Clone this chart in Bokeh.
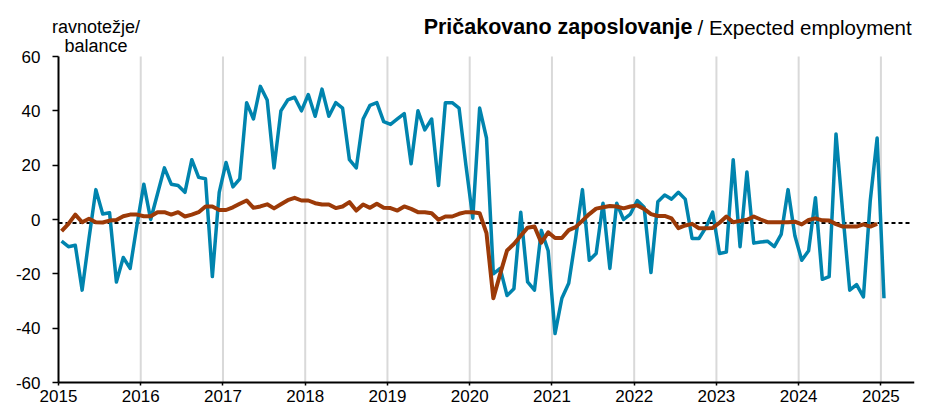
from bokeh.plotting import figure
from bokeh.models import FixedTicker, Label, ColumnDataSource
from bokeh.embed import file_html
from bokeh.resources import INLINE

# ---- data (monthly, Jan 2015 onwards) ----
start_year = 2015
expected_employment = [
    -8, -10, -9.5, -26, -7, 11, 2, 2.5, -23, -14, -18, -2,          # 2015
    13, 0, 9.5, 19, 13, 12.5, 10, 22, 15.5, 15, -21, 10,             # 2016
    21, 12, 15, 43, 37, 49, 44, 19, 40, 44, 45, 40,                  # 2017
    46, 38, 48, 38, 43, 41, 22, 19, 37, 42, 43, 36,                  # 2018
    35, 37, 39, 20.5, 40, 33, 37, 12.5, 43, 43, 41, 20,              # 2019
    0.5, 41, 30, -20, -18, -28, -25.5, 2.7, -23, -26, -4, -11.5,     # 2020
    -42, -29, -23.5, -7, 11, -15, -12.5, 6, -18, 6, 0, 2,            # 2021
    7, 4.5, -19.5, 6.5, 9, 7.5, 10, 7.5, -7, -7, -3, 2.7,            # 2022
    -12.5, -12, 22, -10, 17.5, -8.7, -8.3, -8, -10, -5.5, 11, -6,    # 2023
    -15, -11.5, 8, -22, -21, 31.5, 2, -26, -24, -28.5, 7, 30,        # 2024
    -29,                                                             # 2025
]
trend = [
    -4.3, -1.6, 1.8, -1, 0.3, -1, -1.1, -0.4, -0.2, 1.2, 1.8, 1.8,   # 2015
    1.2, 1.2, 2.7, 2.7, 1.8, 2.7, 1.1, 1.8, 2.7, 4.8, 4.8, 3.5,      # 2016
    3.5, 4.5, 5.8, 7, 4.3, 4.8, 5.6, 4.1, 5.6, 7.1, 8, 7,            # 2017
    7, 6, 5.5, 5.5, 4.2, 4.8, 6.4, 3.3, 5.5, 4.3, 5.8, 4.3,          # 2018
    4.2, 3.3, 4.8, 3.9, 2.7, 2.7, 2.3, -0.1, 1.1, 1.1, 2.1, 2.7,     # 2019
    2.7, 2.3, -5, -29, -20, -11.4, -9, -6, -3, -2.6, -8.5, -4.7,     # 2020
    -6.8, -6.8, -3.9, -2.8, -0.4, 2, 4, 4.5, 5, 4.8, 4.1, 4.8,       # 2021
    5.2, 3.9, 2, 1.3, 1.3, 0.4, -3.2, -2.2, -1.6, -3.2, -3.2, -3.1,  # 2022
    -1.2, 1.1, -1, -0.5, -0.1, 1.1, 0, -1, -1, -1, -1, -0.8,         # 2023
    -1.8, -0.2, 0.4, -0.3, -0.4, -1.7, -2.6, -2.6, -2.6, -1.8, -2.6, -1.6,  # 2024
]
long_term_average = -1.3
year_ticks = [2015, 2016, 2017, 2018, 2019, 2020, 2021, 2022, 2023, 2024, 2025]
year_labels = ["2015", "2016", "2017", "2018", "2019", "2020", "2021", "2022", "2023", "2024", "2025"]
y_ticks = [-60, -40, -20, 0, 20, 40, 60]
y_labels = ["-60", "-40", "-20", "0", "20", "40", "60"]

title_bold = "Pričakovano zaposlovanje"
title_regular = "/ Expected employment"
unit_line1 = "ravnotežje/"
unit_line2 = "balance"

BLUE = "#0084AE"
BROWN = "#9C3A08"
GRID = "#d9d9d9"
FONT = "Liberation Sans"

W, H = 937, 409
Y_MIN, Y_MAX = y_ticks[0], y_ticks[-1]
PX_PER_YEAR = 82.24
PX_PER_UNIT = 2.7167
AXIS_LEFT_PX, AXIS_TOP_PX = 58.0, 56.0


def month_pos(i):
    return start_year + (i + 0.45) / 12.0


# layout helpers (page pixels -> data), used only to place texts / frame
def px_x(px):
    return year_ticks[0] + (px - AXIS_LEFT_PX) / PX_PER_YEAR


def px_y(py):
    return Y_MAX + (AXIS_TOP_PX - py) / PX_PER_UNIT


X_END = px_x(914)

src_blue = ColumnDataSource(dict(
    x=[month_pos(i) for i in range(len(expected_employment))], y=expected_employment))
src_brown = ColumnDataSource(dict(
    x=[month_pos(i) for i in range(len(trend))], y=trend))
src_grid = ColumnDataSource(dict(
    x=year_ticks[1:], y0=[Y_MIN] * (len(year_ticks) - 1), y1=[Y_MAX] * (len(year_ticks) - 1)))
src_avg = ColumnDataSource(dict(
    x0=[year_ticks[0]], x1=[px_x(912)], y=[long_term_average]))

# frame covers the whole canvas (room for texts); axes are pinned at 2015 / -60
p = figure(width=W, height=H, x_range=(px_x(0), px_x(W - 23)), y_range=(px_y(H), px_y(0)),
           output_backend="svg", toolbar_location=None,
           min_border_left=0, min_border_right=23, min_border_top=0, min_border_bottom=0)
p.outline_line_color = None
p.background_fill_color = "white"
p.border_fill_color = "white"
p.xgrid.grid_line_color = None
p.ygrid.grid_line_color = None

# axes
for ax in (p.xaxis[0], p.yaxis[0]):
    ax.axis_line_color = "black"
    ax.axis_line_width = 2
    ax.major_tick_line_color = "black"
    ax.major_tick_line_width = 1.5
    ax.major_tick_in = 0
    ax.minor_tick_line_color = None
    ax.major_label_text_font = FONT
    ax.major_label_text_color = "black"

p.yaxis.ticker = FixedTicker(ticks=y_ticks)
p.yaxis.bounds = (Y_MIN, Y_MAX)
p.yaxis.fixed_location = year_ticks[0]
p.yaxis.major_label_overrides = {t: l for t, l in zip(y_ticks, y_labels)}
p.yaxis.major_tick_out = 6
p.yaxis.major_label_standoff = 12
p.yaxis.major_label_text_font_size = "17px"

p.xaxis.ticker = FixedTicker(ticks=year_ticks)
p.xaxis.bounds = (year_ticks[0], X_END)
p.xaxis.fixed_location = Y_MIN
p.xaxis.major_label_overrides = {t: l for t, l in zip(year_ticks, year_labels)}
p.xaxis.major_tick_out = 3
p.xaxis.major_label_standoff = 4
p.xaxis.major_label_text_font_size = "17px"

# vertical year grid lines, limited to the value range
p.segment(x0="x", y0="y0", x1="x", y1="y1", source=src_grid, line_color=GRID, line_width=2)

# long-term average
p.segment(x0="x0", y0="y", x1="x1", y1="y", source=src_avg, line_color="black",
          line_width=2, line_dash="4 3")

p.line("x", "y", source=src_blue, line_color=BLUE, line_width=3.5, line_join="round")
p.line("x", "y", source=src_brown, line_color=BROWN, line_width=4, line_join="round")

p.add_layout(Label(x=px_x(692), y=px_y(26.7), text=title_bold, text_align="right",
                   text_baseline="alphabetic", text_font=FONT, text_font_size="21.5px",
                   text_font_style="bold", text_color="black"))
p.add_layout(Label(x=px_x(697), y=px_y(26.7), text=title_regular, text_align="left",
                   text_baseline="alphabetic", text_font=FONT, text_font_size="20.5px",
                   text_color="black"))
p.add_layout(Label(x=px_x(95.5), y=px_y(26.7), text=unit_line1, text_align="center",
                   text_baseline="alphabetic", text_font=FONT, text_font_size="18px",
                   text_color="black"))
p.add_layout(Label(x=px_x(95.5), y=px_y(45), text=unit_line2, text_align="center",
                   text_baseline="alphabetic", text_font=FONT, text_font_size="18px",
                   text_color="black"))

open("out.html", "w").write(file_html(p, INLINE))
